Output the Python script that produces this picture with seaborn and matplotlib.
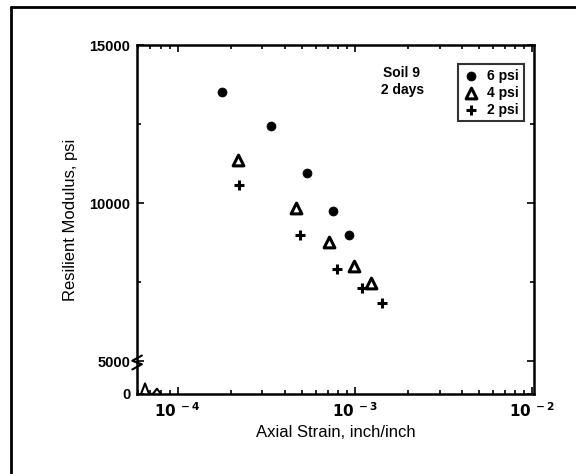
import pandas as pd
import numpy as np
import matplotlib
matplotlib.use("Agg")
import matplotlib.pyplot as plt
import seaborn as sns
from matplotlib.ticker import FixedLocator, NullFormatter, LogLocator

sns.set_style("ticks")
plt.rcParams['font.family'] = ['Liberation Sans', 'DejaVu Sans']
plt.rcParams.update({"axes.edgecolor": "black", "xtick.color": "black", "ytick.color": "black",
                     "text.color": "black", "axes.labelcolor": "black"})

# datos
strain_6 = [1.78e-4, 3.35e-4, 5.39e-4, 7.54e-4, 9.25e-4]
mr_6 = [13500, 12450, 10950, 9750, 9000]
strain_4 = [2.19e-4, 4.62e-4, 7.16e-4, 9.87e-4, 1.23e-3]
mr_4 = [11350, 9850, 8770, 8000, 7470]
strain_2 = [2.22e-4, 4.86e-4, 7.93e-4, 1.09e-3, 1.42e-3]
mr_2 = [10570, 9000, 7910, 7310, 6840]
labels = ["6 psi", "4 psi", "2 psi"]

df = pd.concat([
    pd.DataFrame({"strain": strain_6, "mr": mr_6, "conf": labels[0]}),
    pd.DataFrame({"strain": strain_4, "mr": mr_4, "conf": labels[1]}),
    pd.DataFrame({"strain": strain_2, "mr": mr_2, "conf": labels[2]}),
])

fig = plt.figure(figsize=(5.76, 4.74), dpi=100)
ax = fig.add_axes([0.238, 0.169, 0.689, 0.736])

estilos = {
    "6 psi": dict(marker="o", s=42, color="black", edgecolor="black", linewidth=0.5),
    "4 psi": dict(marker="^", s=60, color="white", edgecolor="black", linewidth=2.2),
    "2 psi": dict(marker="+", s=55, color="black", linewidth=2.2),
}
for c in labels:
    sns.scatterplot(data=df[df.conf == c], x="strain", y="mr", ax=ax, label=c,
                    zorder=3, **estilos[c])

ax.set_xscale("log")
ax.set_xlim(5.9e-5, 1.02e-2)
ax.set_ylim(3960, 15000)

ax.set_xticks([1e-4, 1e-3, 1e-2])
ax.set_xticklabels([r"$\mathbf{10^{\ -4}}$", r"$\mathbf{10^{\ -3}}$", r"$\mathbf{10^{\ -2}}$"], fontsize=11)
ax.xaxis.set_minor_locator(LogLocator(base=10, subs=np.arange(2, 10)))
ax.xaxis.set_minor_formatter(NullFormatter())

ax.set_yticks([3960, 5000, 10000, 15000])
ax.set_yticklabels(["0", "5000", "10000", "15000"], fontweight="bold", fontsize=10.5)
ax.yaxis.set_minor_locator(FixedLocator([7500, 12500]))

ax.tick_params(which="both", direction="in", top=True, right=True, width=1.2)
ax.tick_params(which="major", length=5, pad=5)
ax.tick_params(which="minor", length=3)
for s in ax.spines.values():
    s.set_linewidth(1.8)

ax.set_xlabel("Axial Strain, inch/inch", fontsize=12, labelpad=4)
ax.set_ylabel("Resilient Modulus, psi", fontsize=12, labelpad=8)

# texto y leyenda
ax.text(0.665, 0.895, "Soil 9\n 2 days", transform=ax.transAxes, fontsize=10,
        fontweight="bold", ha="center", va="center", linespacing=1.3)
leg = ax.legend(loc="upper right", bbox_to_anchor=(0.975, 0.945), frameon=True,
                fancybox=False, fontsize=10, handletextpad=0.6, borderpad=0.35,
                labelspacing=0.2, handlelength=1.2, borderaxespad=0)
leg.get_frame().set_edgecolor("black")
leg.get_frame().set_linewidth(1.5)
for t in leg.get_texts():
    t.set_fontweight("bold")

# simbolos de corte de ejes
ax.plot([-0.012, 0.012, -0.012, 0.012], [0.07, 0.085, 0.095, 0.11], transform=ax.transAxes,
        color="black", lw=1.5, clip_on=False)
ax.plot([0.01, 0.02, 0.03, 0.04, 0.05, 0.06], [0.0, 0.03, 0.0, 0.0, 0.015, 0.0],
        transform=ax.transAxes, color="black", lw=1.5, clip_on=False)

# marco de la figura
fig.add_artist(plt.Line2D([0.019, 0.019], [0.0, 0.985], color="black", lw=2, transform=fig.transFigure))
fig.add_artist(plt.Line2D([0.019, 1.0], [0.985, 0.985], color="black", lw=2, transform=fig.transFigure))

fig.savefig("out.png", dpi=100)
